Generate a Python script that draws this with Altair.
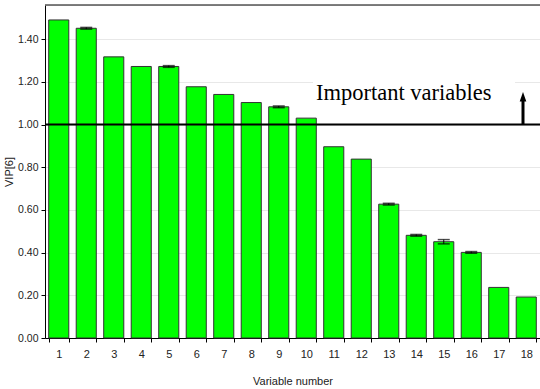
import altair as alt
import pandas as pd

# VIP scores per variable (component 6) with their small uncertainty
variables = list(range(1, 19))
vip = [1.490, 1.451, 1.317, 1.272, 1.272, 1.177, 1.141, 1.103, 1.083,
       1.030, 0.896, 0.838, 0.627, 0.481, 0.451, 0.401, 0.237, 0.192]
err = [0.0, 0.004, 0.0, 0.0, 0.004, 0.0, 0.0, 0.0, 0.004,
       0.0, 0.0, 0.0, 0.004, 0.004, 0.010, 0.004, 0.0, 0.0]

threshold = 1.0
note = "Important variables"

df = pd.DataFrame({"var": variables, "vip": vip, "err": err})
df["lo"] = df["vip"] - df["err"]
df["hi"] = df["vip"] + df["err"]
df_err = df[df["err"] > 0]

AX_FONT = "Liberation Sans Narrow, Arial Narrow, Liberation Sans, Arial"

x_enc = alt.X("var:O", title="Variable number",
              scale=alt.Scale(paddingInner=0.27, paddingOuter=0.135),
              axis=alt.Axis(labelAngle=0, tickBand="extent", tickSize=4,
                            tickColor="black", domainColor="black",
                            labelFont=AX_FONT, labelFontSize=11, labelColor="#222",
                            titleFont=AX_FONT, titleFontSize=11, titleFontWeight="normal",
                            titleColor="#222", labelPadding=6, titlePadding=16))

y_scale = alt.Scale(domain=[0, 1.56], nice=False)
y_ticks = [round(i * 0.1, 1) for i in range(16)]

bars = alt.Chart(df).mark_bar(color="#00ff00", stroke="#333333", strokeWidth=1).encode(
    x=x_enc,
    y=alt.Y("vip:Q", title="VIP[6]", scale=y_scale,
            axis=alt.Axis(values=y_ticks, format=".2f",
                          labelExpr="(round(datum.value*10) % 2 == 0) ? datum.label : ''",
                          grid=True, gridColor="#e8e8e8", gridWidth=1,
                          tickSize=4, tickColor="black", domainColor="black",
                          labelFont=AX_FONT, labelFontSize=10.5, labelColor="#222",
                          titleFont=AX_FONT, titleFontSize=11, titleFontWeight="normal",
                          titleColor="#222", labelPadding=3, titlePadding=3)),
)

err_rule = alt.Chart(df_err).mark_rule(color="black", strokeWidth=1).encode(
    x="var:O", y="lo:Q", y2="hi:Q")
err_hi = alt.Chart(df_err).mark_tick(color="black", size=12, thickness=1.5).encode(
    x="var:O", y="hi:Q")
err_lo = alt.Chart(df_err).mark_tick(color="black", size=12, thickness=1.5).encode(
    x="var:O", y="lo:Q")

# top frame line
frame_top = alt.Chart(pd.DataFrame({"y": [1.56]})).mark_rule(
    color="#555555", strokeWidth=1.5).encode(y=alt.Y("y:Q", scale=y_scale))

# white box behind the annotation text
box = alt.Chart(pd.DataFrame({"y": [1.108], "y2": [1.225]})).mark_rect(
    color="white").encode(x=alt.value(268), x2=alt.value(470),
                          y=alt.Y("y:Q", scale=y_scale), y2="y2:Q")

thr = alt.Chart(pd.DataFrame({"y": [threshold]})).mark_rule(
    color="black", strokeWidth=2).encode(y=alt.Y("y:Q", scale=y_scale))

label = alt.Chart(pd.DataFrame({"y": [1.115], "t": [note]})).mark_text(
    align="left", baseline="alphabetic", font="Liberation Serif", fontSize=22.5,
    color="black").encode(x=alt.value(271), y=alt.Y("y:Q", scale=y_scale), text="t:N")

arrow_line = alt.Chart(pd.DataFrame({"y": [threshold], "y2": [1.115]})).mark_rule(
    color="black", strokeWidth=3).encode(x=alt.value(478),
                                         y=alt.Y("y:Q", scale=y_scale), y2="y2:Q")
arrow_head = alt.Chart(pd.DataFrame({"y": [1.13]})).mark_point(
    shape="M-0.7,1L0,-1L0.7,1Z", filled=True, color="black", size=90, opacity=1).encode(
    x=alt.value(478), y=alt.Y("y:Q", scale=y_scale))

chart = alt.layer(
    bars, err_rule, err_hi, err_lo, frame_top, box, thr, label, arrow_line, arrow_head
).properties(
    width=495, height=333,
    padding={"left": 45, "top": 5, "right": 0, "bottom": 51},
    autosize=alt.AutoSizeParams(type="none"),
).configure_view(stroke=None).configure(background="white")

chart.save("out.html", embed_options={"renderer": "svg", "actions": False})
